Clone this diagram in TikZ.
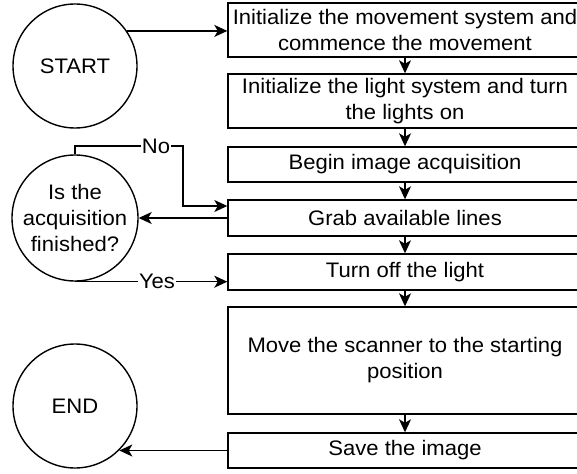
\documentclass[tikz,border=0pt]{standalone}
\usepackage{fontspec}
\setmainfont{Liberation Sans}[FakeStretch=1.05]
\usetikzlibrary{arrows.meta,calc}
\begin{document}
\begin{tikzpicture}[x=1pt,y=-1pt,
  every node/.style={font=\fontsize{21}{26}\selectfont},
  stepbox/.style={draw,line width=1.4pt,minimum width=354pt,align=center,inner sep=0pt},
  roundnode/.style={draw,line width=1.4pt,circle,minimum size=124pt,inner sep=0pt,align=center},
  arr/.style={line width=1.4pt,-{Stealth[length=13pt,width=12pt,inset=3.5pt]}},
  lbl/.style={fill=white,inner sep=1pt}]
\useasboundingbox (0,0) rectangle (577,473);
\fill[white] (0,0) rectangle (577,473);
\node[roundnode] (start) at (75,66) {START};
\node[roundnode,minimum size=126pt] (dec) at (75,218) {Is the\\acquisition\\finished?};
\node[roundnode] (end) at (75,406) {END};
\node[stepbox,minimum height=54pt] (b1) at (405,30) {Initialize the movement system and\\commence the movement};
\node[stepbox,minimum height=54pt] (b2) at (405,101) {Initialize the light system and turn\\the lights on};
\node[stepbox,minimum height=35pt] (b3) at (405,164.5) {Begin image acquisition};
\node[stepbox,minimum height=36pt] (b4) at (405,218) {Grab available lines};
\node[stepbox,minimum height=36pt] (b5) at (405,272) {Turn off the light};
\node[stepbox,minimum height=107pt] (b6) at (405,360.5) {Move the scanner to the starting\\position};
\node[stepbox,minimum height=35pt] (b7) at (405,450.5) {Save the image};
\coordinate (nc) at (183,146);
\draw[arr] (start.34) -- (start.34 -| b1.west);
\draw[arr] (b1) -- (b2);
\draw[arr] (b2) -- (b3);
\draw[arr] (b3) -- (b4);
\draw[arr] (b4) -- (b5);
\draw[arr] (b5) -- (b6);
\draw[arr] (b6) -- (b7);
\draw[arr] (dec.north) |- (nc) |- ($(b4.west)+(0,-12)$);
\node[lbl] (no) at (156,146) {No};
\draw[arr] (b4.west) -- (dec.east);
\draw[arr] (dec.south) -- (dec.south -| b5.west);
\node[lbl] (yes) at (157,281) {Yes};
\draw[arr] (b7.west) -- (b7.west -| end.-45);
\end{tikzpicture}
\end{document}
